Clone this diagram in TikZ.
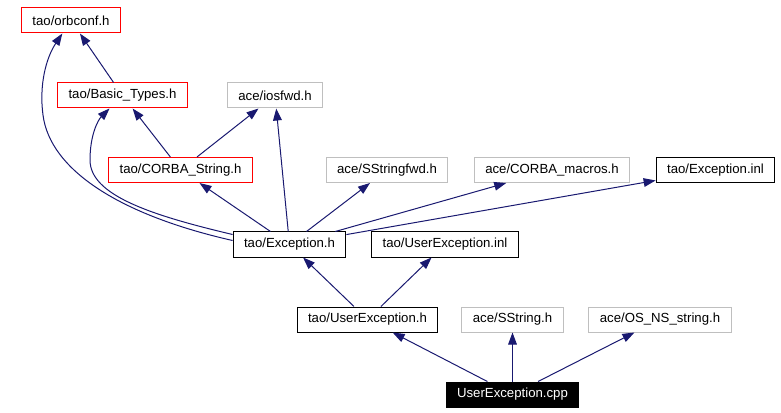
\documentclass[tikz,border=0pt]{standalone}
\usepackage{fontspec}
\setmainfont{Liberation Sans}
\usetikzlibrary{arrows.meta}
\definecolor{edgeblue}{HTML}{191970}
\definecolor{lightbox}{HTML}{BFBFBF}
\begin{document}
\begin{tikzpicture}[x=0.75pt,y=-0.75pt,
  file/.style={draw,line width=0.75pt,inner xsep=8.2pt,inner ysep=0pt,minimum height=18.75pt,font=\fontsize{9.9}{12}\selectfont},
  redfile/.style={file,draw=red},
  greyfile/.style={file,draw=lightbox},
  dep/.style={draw=edgeblue,line width=0.75pt,-{Triangle[length=9pt,width=6.5pt]}}]
\useasboundingbox (0,0) rectangle (781,413);

\node[redfile] (f1) at (71,20.5) {tao/orbconf.h};
\node[redfile] (f2) at (122.5,95.5) {tao/Basic\_Types.h};
\node[greyfile] (f3) at (275,95.5) {ace/iosfwd.h};
\node[redfile] (f4) at (180.5,170) {tao/CORBA\_String.h};
\node[greyfile] (f5) at (387,170) {ace/SStringfwd.h};
\node[greyfile] (f6) at (552,170) {ace/CORBA\_macros.h};
\node[file] (f7) at (715.5,170) {tao/Exception.inl};
\node[file] (f8) at (289.5,244.5) {tao/Exception.h};
\node[file] (f9) at (445,244.5) {tao/UserException.inl};
\node[file] (f10) at (367.5,319.5) {tao/UserException.h};
\node[greyfile] (f11) at (512.5,319.5) {ace/SString.h};
\node[greyfile] (f12) at (660,319.5) {ace/OS\_NS\_string.h};
\node[file,fill=black,text=white] (f13) at (512.5,394.5) {UserException.cpp};

\draw[dep] (f2) -- (f1);
\draw[dep] (f4) -- (f2);
\draw[dep] (f4) -- (f3);
\draw[dep] ([yshift=3pt]f8.west) .. controls (120,215) and (50,170) .. (43,115) .. controls (39,85) and (46,58) .. (f1);
\draw[dep] ([yshift=7.5pt]f8.west) .. controls (150,215) and (90,195) .. (90,160) .. controls (90,135) and (98,120) .. (f2);
\draw[dep] (f8) -- (f3);
\draw[dep] (f8) -- (f4);
\draw[dep] (f8) -- (f5);
\draw[dep] (f8) -- (f6);
\draw[dep] (f8) -- (f7);
\draw[dep] (f10) -- (f8);
\draw[dep] (f10) -- (f9);
\draw[dep] (f13) -- (f10);
\draw[dep] (f13) -- (f11);
\draw[dep] (f13) -- (f12);
\end{tikzpicture}
\end{document}
